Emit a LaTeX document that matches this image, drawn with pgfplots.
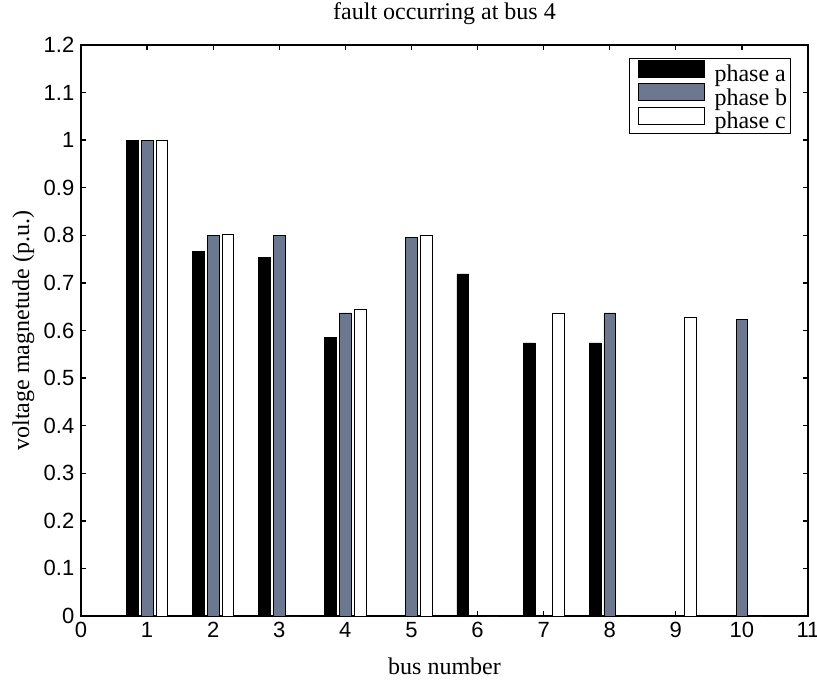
\documentclass[border=0pt]{standalone}
\usepackage{fontspec}
\setmainfont{Liberation Serif}
\setsansfont{Liberation Sans}
\usepackage{pgfplots}
\pgfplotsset{compat=1.18}
\definecolor{phb}{RGB}{108,120,143}
\pgfplotsset{
  mybar/.style={ybar, bar width=0.178, draw=black, line width=0.5pt,
    legend image code/.code={\path (-5pt,0) (56pt,0);\draw[##1,line width=0.6pt] (0pt,-2.2pt) rectangle (50pt,10.5pt);}},
}
\begin{document}
\begin{tikzpicture}[x=1pt,y=1pt]
\path[use as bounding box] (0,0) rectangle (612.75,509.25);
\begin{axis}[
  at={(60.75pt,47.25pt)}, anchor=south west,
  scale only axis, width=545.25pt, height=428.25pt,
  xmin=0, xmax=11, ymin=0, ymax=1.2,
  xtick={0,1,2,3,4,5,6,7,8,9,10,11},
  ytick={0,0.1,0.2,0.3,0.4,0.5,0.6,0.7,0.8,0.9,1,1.1,1.2},
  tick align=inside,
  major tick length=4pt,
  axis line style={line width=1.4pt},
  tick style={line width=1pt, black},
  /pgf/number format/assume math mode=true,
  tick label style={font=\fontsize{16.5}{19}\sffamily},
  yticklabel style={xshift=-1.5pt},
  xticklabel style={yshift=-1pt},
  title={fault occurring at bus 4},
  title style={at={(axis description cs:0.5,1.031)}, anchor=base, font=\fontsize{18}{21}\selectfont},
  xlabel={bus number},
  xlabel style={at={(axis description cs:0.5,-0.1016)}, anchor=base, font=\fontsize{18}{21}\selectfont},
  ylabel={voltage magnetude (p.u.)},
  ylabel style={at={(axis description cs:-0.0715,0.5)}, anchor=base, rotate=0, font=\fontsize{18}{21}\selectfont},
  legend style={at={(0.976,0.9767)}, anchor=north east, draw=black, line width=0.6pt,
    font=\fontsize{18}{21}\selectfont, inner sep=1pt, row sep=-1.5pt,
    nodes={inner sep=1.2pt}},
  legend cell align=left,
]
\addplot[mybar, bar shift=-0.222, fill=black] coordinates {
  (1,1.000) (2,0.767) (3,0.754) (4,0.585) (5,0) (6,0.719) (7,0.574) (8,0.574) (9,0) (10,0)};
\addplot[mybar, bar shift=0, fill=phb] coordinates {
  (1,1.000) (2,0.799) (3,0.799) (4,0.637) (5,0.796) (6,0) (7,0) (8,0.637) (9,0) (10,0.624)};
\addplot[mybar, bar shift=0.222, fill=white] coordinates {
  (1,1.000) (2,0.802) (3,0) (4,0.644) (5,0.799) (6,0) (7,0.637) (8,0) (9,0.627) (10,0)};
\legend{phase a, phase b, phase c}
\end{axis}
\end{tikzpicture}
\end{document}
